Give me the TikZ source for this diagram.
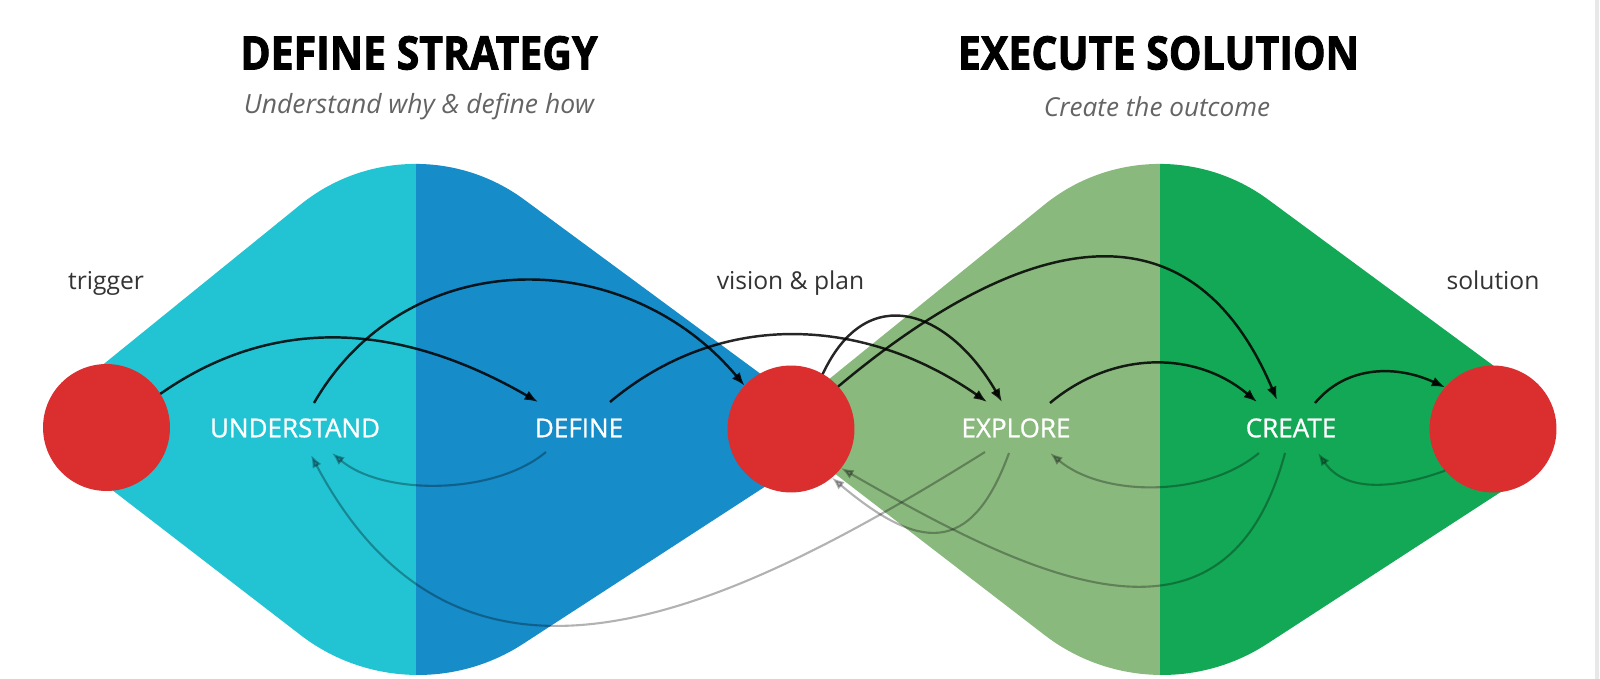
\documentclass[tikz,border=0pt]{standalone}
\usepackage{graphicx}
\usepackage{fontspec}
\setmainfont{Open Sans}
\newfontfamily\heavyfont{Open Sans}[BoldFeatures={FakeBold=2}]
\newfontfamily\semifont{Open Sans}[FakeBold=0.8]
\usetikzlibrary{arrows.meta,calc}
\definecolor{cyanL}{HTML}{22C4D4}
\definecolor{blueD}{HTML}{168CC9}
\definecolor{greenL}{HTML}{8AB97E}
\definecolor{greenD}{HTML}{13A856}
\definecolor{redC}{HTML}{DB2E2E}
\definecolor{subgrey}{HTML}{646464}
\definecolor{lblgrey}{HTML}{333333}
% rounded-rhombus outline, relative to the split line of each shape
\newcommand{\bellfill}[1]{\fill[#1] (-360,276.3) -- (-115.6,474.3)
  .. controls (-50.9,526.7) and (41.3,528.8) .. (108.3,479.3) -- (380,279) -- (380,212.5)
  -- (107,35.1) .. controls (38.5,-9.4) and (-50.8,-5.8) .. (-115.5,44) -- (-360,232.2) -- cycle;}
\newcommand{\bellshape}[3]{%
 \begin{scope}[shift={(#1,0)}]
  \begin{scope}\clip (-420,-20) rectangle (0,699); \bellfill{#2} \end{scope}
  \begin{scope}\clip (0,-20) rectangle (420,699); \bellfill{#3} \end{scope}
 \end{scope}}
\tikzset{
 redc/.style={circle, fill=redC, minimum size=36.1pt, inner sep=0pt, outer sep=0pt},
 inlbl/.style={text=white, font=\semifont\fontsize{7.4}{8}\selectfont, inner sep=0pt},
 outlbl/.style={text=lblgrey, font=\fontsize{7}{8}\selectfont, inner sep=0pt, anchor=base},
 ttl/.style={text=black, inner sep=0pt},
 subttl/.style={text=subgrey, inner sep=0pt},
 fwd/.style={draw=black, opacity=0.85, line width=0.7pt, -{Latex[length=3.8pt,width=2.9pt]}},
 bwd/.style={draw=black, opacity=0.3, line width=0.6pt, -{Latex[length=3.6pt,width=2.8pt]}}
}
\begin{document}
\begin{tikzpicture}[x=0.01cm,y=0.01cm]
\useasboundingbox (0,0) rectangle (1600,679);
\fill[white] (0,0) rectangle (1600,679);
% shapes
\bellshape{416}{cyanL}{blueD}
\bellshape{1160}{greenL}{greenD}
\draw[gray!18, line width=1.2pt] (1597,0) -- (1597,679);
% titles
\node[ttl] (t1) at (419,626) {\resizebox{101.6pt}{9.5pt}{\heavyfont\bfseries DEFINE STRATEGY}};
\node[subttl] (s1) at (419,572) {\resizebox{99.6pt}{!}{\itshape Understand why \& define how}};
\node[ttl] (t2) at (1158.5,626) {\resizebox{114.1pt}{9.5pt}{\heavyfont\bfseries EXECUTE SOLUTION}};
\node[subttl] (s2) at (1157,572) {\resizebox{64.3pt}{!}{\itshape Create the outcome}};
% outer labels
\node[outlbl] (ltrig) at (106,389) {trigger};
\node[outlbl] (lvis) at (790.5,389) {vision \& plan};
\node[outlbl] (lsol) at (1493,389) {solution};
% circles
\node[redc] (trig) at (106.5,251.5) {};
\node[redc] (vis) at (791,250) {};
\node[redc] (sol) at (1493,250) {};
% stage labels
\node[inlbl] (und) at (295,251) {UNDERSTAND};
\node[inlbl] (def) at (579,251) {DEFINE};
\node[inlbl] (exp) at (1016,251) {EXPLORE};
\node[inlbl] (crt) at (1291,251) {CREATE};
% forward arrows
\draw[fwd] (trig.32) to[out=35,in=150] ($(def)+(-41,26)$);
\draw[fwd] ($(und)+(19,25)$) to[out=60,in=130,looseness=1.1] (vis.137);
\draw[fwd] ($(def)+(31,26)$) to[out=40,in=145] ($(exp)+(-29,26)$);
\draw[fwd] (vis.60) to[out=65,in=120,looseness=1.48] ($(exp)+(-14,26)$);
\draw[fwd] (vis.42) to[out=40,in=113,looseness=1.34] ($(crt)+(-14,28)$);
\draw[fwd] ($(exp)+(34,25)$) to[out=40,in=140] ($(crt)+(-34,26)$);
\draw[fwd] ($(crt)+(24,25)$) to[out=50,in=155] (sol.139);
% feedback arrows
\draw[bwd] ($(def)+(-33,-24)$) to[out=-140,in=-40,looseness=0.8] ($(und)+(37,-25)$);
\draw[bwd] ($(exp)+(-31,-24)$) to[out=-148,in=-62,looseness=1.2] ($(und)+(16,-27)$);
\draw[bwd] ($(crt)+(-6,-25)$) to[out=-105,in=-30,looseness=1.3] (vis.-38);
\draw[bwd] ($(exp)+(-7,-25)$) to[out=-110,in=-40,looseness=1.6] (vis.-50);
\draw[bwd] (sol.-139) to[out=-160,in=-55] ($(crt)+(27,-25)$);
\draw[bwd] ($(crt)+(-32,-25)$) to[out=-140,in=-40,looseness=0.85] ($(exp)+(34,-25)$);
\end{tikzpicture}
\end{document}
